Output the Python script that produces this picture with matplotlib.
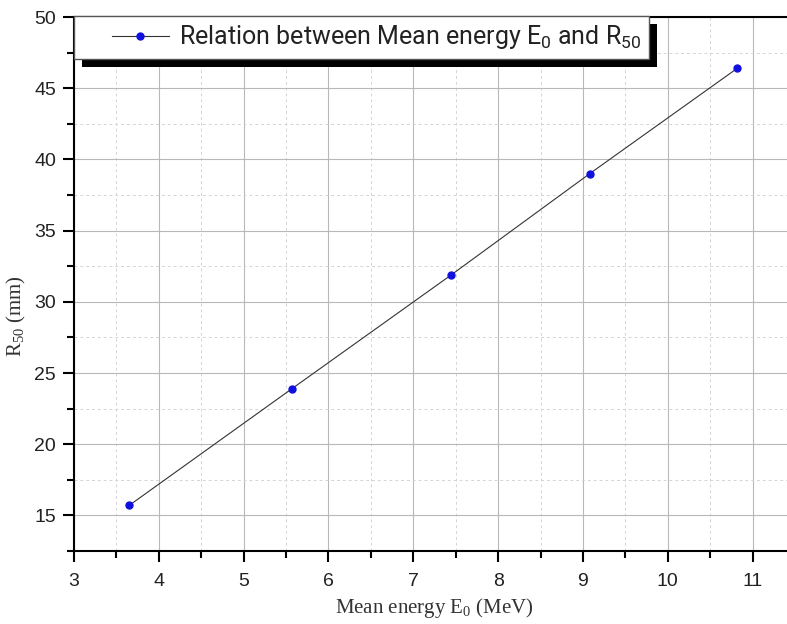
import matplotlib.pyplot as plt
import matplotlib.patheffects as pe
from matplotlib.legend_handler import HandlerLine2D
from matplotlib.ticker import MultipleLocator

energy = [3.65, 5.57, 7.45, 9.08, 10.82]
r50 = [15.7, 23.9, 31.9, 39.0, 46.4]

fig = plt.figure(figsize=(7.87, 6.24), dpi=100)
ax = fig.add_axes([74 / 787, 73 / 624, 721 / 787, 534 / 624])

line, = ax.plot(energy, r50, color="#333333", lw=0.8, marker="o", ms=5,
                mfc="#1010e0", mec="#1010e0",
                label=r"Relation between Mean energy $\mathregular{E_0}$ and $\mathregular{R_{50}}$")

ax.set_xlim(3, 11.5)
ax.set_ylim(12.5, 50)
ax.xaxis.set_major_locator(MultipleLocator(1))
ax.xaxis.set_minor_locator(MultipleLocator(0.5))
ax.yaxis.set_major_locator(MultipleLocator(5))
ax.yaxis.set_minor_locator(MultipleLocator(2.5))

ax.grid(which="major", color="#b8b8b8", lw=0.8)
ax.grid(which="minor", color="#d4d4d4", lw=0.7, ls=(0, (3, 3)))
ax.set_axisbelow(True)

for s in ax.spines.values():
    s.set_linewidth(1.5)
ax.tick_params(which="major", direction="out", length=8, width=1.5,
               labelsize=14, pad=5)
ax.tick_params(axis="x", which="major", pad=8)
ax.tick_params(which="minor", direction="out", length=5, width=1.5)
for lab in ax.get_xticklabels() + ax.get_yticklabels():
    lab.set_family("Liberation Sans")
    lab.set_color("#222222")

ax.set_xlabel(r"Mean energy $\mathregular{E_0}$ (MeV)", family="Liberation Serif",
              fontsize=15, color="#333333", labelpad=4)
ax.set_ylabel(r"$\mathregular{R_{50}}$ (mm)", family="Liberation Serif",
              fontsize=15, color="#333333")
ax.yaxis.set_label_coords(-0.064, 0.44)

leg = ax.legend(loc="upper left", bbox_to_anchor=(0, 1.002), borderaxespad=0,
                fancybox=False, framealpha=1, edgecolor="#555555",
                prop={"family": "Roboto", "size": 18},
                handlelength=3.5, handletextpad=0.4, borderpad=0.3,
                handler_map={line: HandlerLine2D(xpad=1.2)})
for t in leg.get_texts():
    t.set_color("#222222")
leg.get_frame().set_linewidth(1.0)
leg.get_frame().set_path_effects([
    pe.SimplePatchShadow(offset=(6, -6), shadow_rgbFace="black", alpha=1),
    pe.Normal()])

fig.savefig("out.png", dpi=100)
